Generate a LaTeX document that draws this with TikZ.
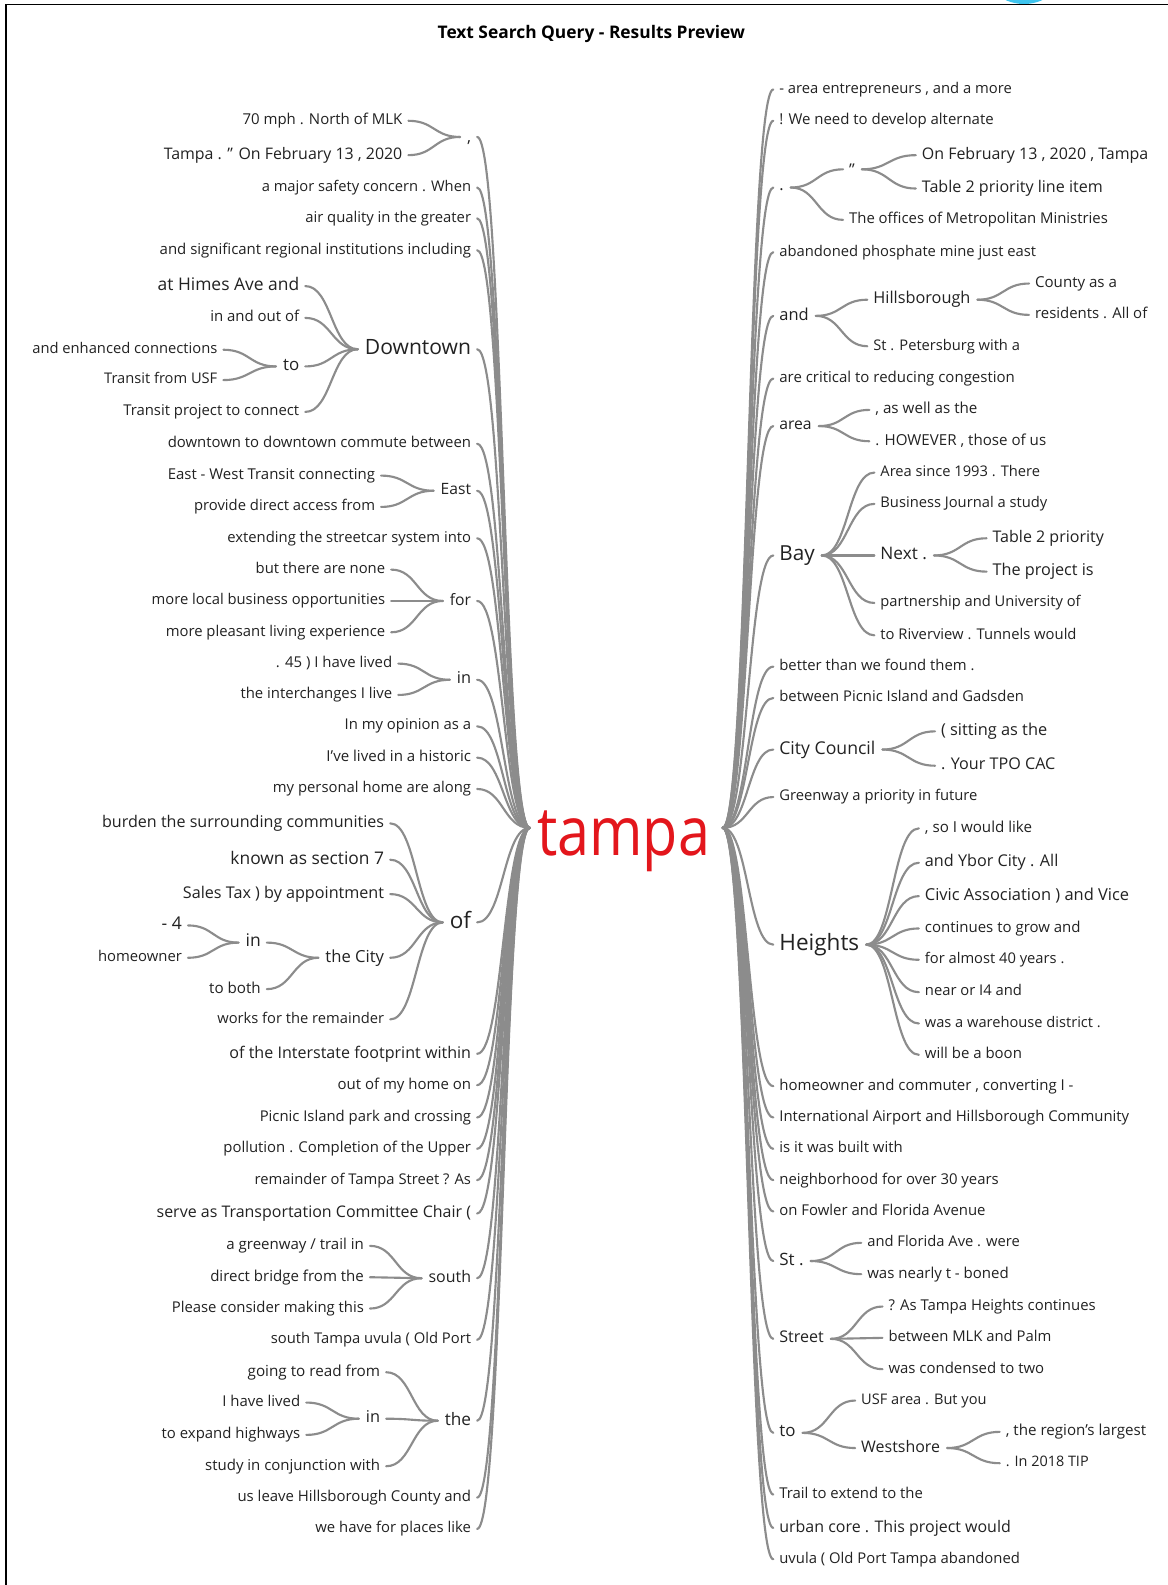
\documentclass[tikz,border=0pt]{standalone}
\usepackage{fontspec}
\setmainfont{Open Sans}
\usepackage{graphicx}
\usetikzlibrary{calc}
\definecolor{txt}{HTML}{222222}
\definecolor{lnk}{HTML}{8C8C8C}
\definecolor{hubred}{HTML}{E3161C}
\definecolor{blu}{HTML}{3EC4EE}
\tikzset{
  lt/.style={anchor=east, inner sep=0pt, outer sep=0pt, text=txt, yshift=-2.5pt},
  rt/.style={anchor=west, inner sep=0pt, outer sep=0pt, text=txt, yshift=-2.5pt},
  conn/.style={draw=lnk, line width=2.1pt, line cap=round},
  frame/.style={draw=black, line width=1.6pt},
}
\newcommand\WtL[5]{\node[lt] (#1) at (#4,#2) {\resizebox{\dimexpr#4pt-#3pt\relax}{!}{\vphantom{Ag}#5}};}
\newcommand\WtR[5]{\node[rt] (#1) at (#3,#2) {\resizebox{\dimexpr#4pt-#3pt\relax}{!}{\vphantom{Ag}#5}};}
\newcommand\lk[2]{\draw[conn] let \p1=(#1), \p2=(#2) in (\p1) .. controls ({0.5*\x1+0.5*\x2},\y1) and ({0.5*\x1+0.5*\x2},\y2) .. (\p2);}
\newcommand\lkL[2]{\lk{[xshift=6pt]#1.east}{[xshift=-7pt]#2.west}}
\newcommand\lkR[2]{\lk{[xshift=7pt]#1.east}{[xshift=-6pt]#2.west}}
\newcommand\lkHL[1]{\lk{[xshift=6pt]#1.east}{hubL}}
\newcommand\lkHR[1]{\lk{hubR}{[xshift=-6pt]#1.west}}
\begin{document}
\begin{tikzpicture}[x=1pt,y=-1pt]
\useasboundingbox (0,0) rectangle (1155,1568);
\fill[white] (0,0) rectangle (1155,1568);
\begin{scope}
\clip (0,0) rectangle (1155,1568);
\fill[blu] (1013,-40) circle[radius=44pt];
\end{scope}
\draw[frame] (1155,4.5) -- (6,4.5) -- (6,1568);

\node[inner sep=0pt, text=black] (title) at (585,33.5) {\resizebox{304pt}{!}{\bfseries\vphantom{Ag}Text Search Query - Results Preview}};
\node[anchor=base, inner sep=0pt, text=hubred] (tampa) at (617,846.5) {\scalebox{1}[1.18]{\resizebox{171pt}{!}{tampa}}};
\coordinate (hubL) at (524,819);
\coordinate (hubR) at (715,819);

% ---------------- left side ----------------
\node[lt] (lc) at (466,133) {\fontsize{16}{16}\selectfont\vphantom{Ag}\smash{\raisebox{-1.5pt}{,}}};
\WtL{lc1}{117}{240}{398}{70 mph . North of MLK}
\WtL{lc2}{151}{162}{398}{Tampa . ” On February 13 , 2020}
\WtL{l2}{183}{259}{466}{a major safety concern . When}
\WtL{l3}{213.5}{302}{466}{air quality in the greater}
\WtL{l4}{245}{158}{466}{and significant regional institutions including}
\WtL{ld}{343}{361}{466}{Downtown}
\WtL{ld1}{280.5}{156}{296}{at Himes Ave and}
\WtL{ld2}{312}{208}{296}{in and out of}
\WtL{ldt}{360}{280}{296}{to}
\WtL{ldt1}{343.5}{32}{215}{and enhanced connections}
\WtL{ldt2}{373.5}{103}{215}{Transit from USF}
\WtL{ld3}{405}{122}{296}{Transit project to connect}
\WtL{l5}{436.5}{166}{466}{downtown to downtown commute between}
\WtL{le}{483}{436}{466}{East}
\WtL{le1}{468}{166}{371}{East - West Transit connecting}
\WtL{le2}{499}{192}{371}{provide direct access from}
\WtL{l6}{530}{225}{466}{extending the streetcar system into}
\WtL{lf}{592}{445}{466}{for}
\WtL{lf1}{561}{253}{381}{but there are none}
\WtL{lf2}{592}{150}{381}{more local business opportunities}
\WtL{lf3}{623}{164}{381}{more pleasant living experience}
\WtL{li}{670}{452}{466}{in}
\WtL{li1}{654}{273}{388}{. 45 ) I have lived}
\WtL{li2}{685}{238}{388}{the interchanges I live}
\WtL{l7}{716}{341}{466}{In my opinion as a}
\WtL{l8}{747}{323}{466}{I've lived in a historic}
\WtL{l9}{778}{270}{466}{my personal home are along}
\WtL{lo}{910}{445}{466}{of}
\WtL{lo1}{812}{101}{380}{burden the surrounding communities}
\WtL{lo2}{848}{228}{380}{known as section 7}
\WtL{lo3}{882}{181}{380}{Sales Tax ) by appointment}
\WtL{loc}{945}{322}{380}{the City}
\WtL{loci}{930}{243}{258}{in}
\WtL{loci1}{913}{160}{180}{- 4}
\WtL{loci2}{945}{97}{180}{homeowner}
\WtL{loc2}{976}{207}{258}{to both}
\WtL{lo4}{1006}{215}{380}{works for the remainder}
\WtL{l10}{1040}{227}{466}{of the Interstate footprint within}
\WtL{l11}{1071}{334}{466}{out of my home on}
\WtL{l12}{1103}{257}{466}{Picnic Island park and crossing}
\WtL{l13}{1134}{221}{466}{pollution . Completion of the Upper}
\WtL{l14}{1165}{252}{466}{remainder of Tampa Street ? As}
\WtL{l15}{1198}{155}{466}{serve as Transportation Committee Chair (}
\WtL{ls}{1262}{424}{466}{south}
\WtL{ls1}{1230}{224}{360}{a greenway / trail in}
\WtL{ls2}{1261}{208}{360}{direct bridge from the}
\WtL{ls3}{1292}{170}{360}{Please consider making this}
\WtL{l16}{1323}{268}{466}{south Tampa uvula ( Old Port}
\WtL{lth}{1403}{440}{466}{the}
\WtL{lth1}{1355}{245}{376}{going to read from}
\WtL{lthi}{1401}{362}{376}{in}
\WtL{lthi1}{1385}{220}{297}{I have lived}
\WtL{lthi2}{1417}{160}{297}{to expand highways}
\WtL{lth2}{1448}{203}{376}{study in conjunction with}
\WtL{l17}{1479}{235}{466}{us leave Hillsborough County and}
\WtL{l18}{1510}{312}{466}{we have for places like}

% ---------------- right side ----------------
\WtR{r1}{86}{771}{1001}{- area entrepreneurs , and a more}
\WtR{r2}{117}{771}{983}{! We need to develop alternate}
\node[rt] (rp) at (771,183) {\fontsize{16}{16}\selectfont\vphantom{Ag}\smash{\raisebox{0.5pt}{.}}};
\node[rt] (rpq) at (840,165) {\fontsize{16}{16}\selectfont\vphantom{Ag}\smash{\raisebox{-2.5pt}{”}}};
\WtR{rpq1}{151}{912}{1136}{On February 13 , 2020 , Tampa}
\WtR{rpq2}{184}{912}{1091}{Table 2 priority line item}
\WtR{rp2}{215}{840}{1096}{The offices of Metropolitan Ministries}
\WtR{r3}{247}{771}{1025}{abandoned phosphate mine just east}
\WtR{ra}{310}{771}{800}{and}
\WtR{rah}{294}{864}{960}{Hillsborough}
\WtR{rah1}{278}{1024}{1105}{County as a}
\WtR{rah2}{309}{1024}{1135}{residents . All of}
\WtR{ra2}{340}{864}{1009}{St . Petersburg with a}
\WtR{r4}{372}{771}{1004}{are critical to reducing congestion}
\WtR{rar}{419}{771}{803}{area}
\WtR{rar1}{403}{866}{967}{, as well as the}
\WtR{rar2}{434}{866}{1035}{. HOWEVER , those of us}
\WtR{rb}{547}{771}{806}{Bay}
\WtR{rb1}{465}{871}{1029}{Area since 1993 . There}
\WtR{rb2}{496}{871}{1036}{Business Journal a study}
\WtR{rbn}{547}{871}{917}{Next .}
\WtR{rbn1}{530}{982}{1092}{Table 2 priority}
\WtR{rbn2}{563}{982}{1082}{The project is}
\WtR{rb3}{594}{871}{1069}{partnership and University of}
\WtR{rb4}{626}{871}{1065}{to Riverview . Tunnels would}
\WtR{r5}{657}{771}{964}{better than we found them .}
\WtR{r6}{688}{771}{1013}{between Picnic Island and Gadsden}
\WtR{rc}{739}{771}{866}{City Council}
\WtR{rc1}{721}{931}{1036}{( sitting as the}
\WtR{rc2}{755}{931}{1044}{. Your TPO CAC}
\WtR{r7}{786}{771}{967}{Greenway a priority in future}
\WtR{rh}{932}{771}{850}{Heights}
\WtR{rh1}{817}{915}{1021}{, so I would like}
\WtR{rh2}{851}{915}{1047}{and Ybor City . All}
\WtR{rh3}{884}{915}{1117}{Civic Association ) and Vice}
\WtR{rh4}{916}{915}{1069}{continues to grow and}
\WtR{rh5}{947}{915}{1053}{for almost 40 years .}
\WtR{rh6}{979}{915}{1011}{near or I4 and}
\WtR{rh7}{1010}{915}{1089}{was a warehouse district .}
\WtR{rh8}{1041}{915}{1011}{will be a boon}
\WtR{r8}{1072}{771}{1062}{homeowner and commuter , converting I -}
\WtR{r9}{1103}{771}{1117}{International Airport and Hillsborough Community}
\WtR{r10}{1134}{771}{893}{is it was built with}
\WtR{r11}{1165}{771}{988}{neighborhood for over 30 years}
\WtR{r12}{1196}{771}{975}{on Fowler and Florida Avenue}
\WtR{rs}{1245}{771}{795}{St .}
\WtR{rs1}{1227}{858}{1009}{and Florida Ave . were}
\WtR{rs2}{1258}{858}{998}{was nearly t - boned}
\WtR{rst}{1322}{771}{815}{Street}
\WtR{rst1}{1290}{879}{1084}{? As Tampa Heights continues}
\WtR{rst2}{1321}{879}{1040}{between MLK and Palm}
\WtR{rst3}{1352}{879}{1033}{was condensed to two}
\WtR{rto}{1415}{771}{787}{to}
\WtR{rto1}{1383}{852}{976}{USF area . But you}
\WtR{rtow}{1430}{852}{930}{Westshore}
\WtR{rtow1}{1414}{995}{1134}{, the region’s largest}
\WtR{rtow2}{1445}{995}{1077}{. In 2018 TIP}
\WtR{r13}{1476}{771}{913}{Trail to extend to the}
\WtR{r14}{1509}{771}{1000}{urban core . This project would}
\WtR{r15}{1540}{771}{1009}{uvula ( Old Port Tampa abandoned}

% ---------------- connectors: left ----------------
\foreach \nm in {lc,l2,l3,l4,ld,l5,le,l6,lf,li,l7,l8,l9,lo,l10,l11,l12,l13,l14,l15,ls,l16,lth,l17,l18}{\lkHL{\nm}}
\lkL{lc1}{lc}\lkL{lc2}{lc}
\lkL{ld1}{ld}\lkL{ld2}{ld}\lkL{ldt}{ld}\lkL{ld3}{ld}
\lkL{ldt1}{ldt}\lkL{ldt2}{ldt}
\lkL{le1}{le}\lkL{le2}{le}
\lkL{lf1}{lf}\lkL{lf2}{lf}\lkL{lf3}{lf}
\lkL{li1}{li}\lkL{li2}{li}
\lkL{lo1}{lo}\lkL{lo2}{lo}\lkL{lo3}{lo}\lkL{loc}{lo}\lkL{lo4}{lo}
\lkL{loci}{loc}\lkL{loc2}{loc}
\lkL{loci1}{loci}\lkL{loci2}{loci}
\lkL{ls1}{ls}\lkL{ls2}{ls}\lkL{ls3}{ls}
\lkL{lth1}{lth}\lkL{lthi}{lth}\lkL{lth2}{lth}
\lkL{lthi1}{lthi}\lkL{lthi2}{lthi}

% ---------------- connectors: right ----------------
\foreach \nm in {r1,r2,rp,r3,ra,r4,rar,rb,r5,r6,rc,r7,rh,r8,r9,r10,r11,r12,rs,rst,rto,r13,r14,r15}{\lkHR{\nm}}
\lkR{rp}{rpq}\lkR{rp}{rp2}
\lkR{rpq}{rpq1}\lkR{rpq}{rpq2}
\lkR{ra}{rah}\lkR{ra}{ra2}
\lkR{rah}{rah1}\lkR{rah}{rah2}
\lkR{rar}{rar1}\lkR{rar}{rar2}
\lkR{rb}{rb1}\lkR{rb}{rb2}\lkR{rb}{rbn}\lkR{rb}{rb3}\lkR{rb}{rb4}
\lkR{rbn}{rbn1}\lkR{rbn}{rbn2}
\lkR{rc}{rc1}\lkR{rc}{rc2}
\foreach \nm in {rh1,rh2,rh3,rh4,rh5,rh6,rh7,rh8}{\lkR{rh}{\nm}}
\lkR{rs}{rs1}\lkR{rs}{rs2}
\lkR{rst}{rst1}\lkR{rst}{rst2}\lkR{rst}{rst3}
\lkR{rto}{rto1}\lkR{rto}{rtow}
\lkR{rtow}{rtow1}\lkR{rtow}{rtow2}
\end{tikzpicture}
\end{document}
